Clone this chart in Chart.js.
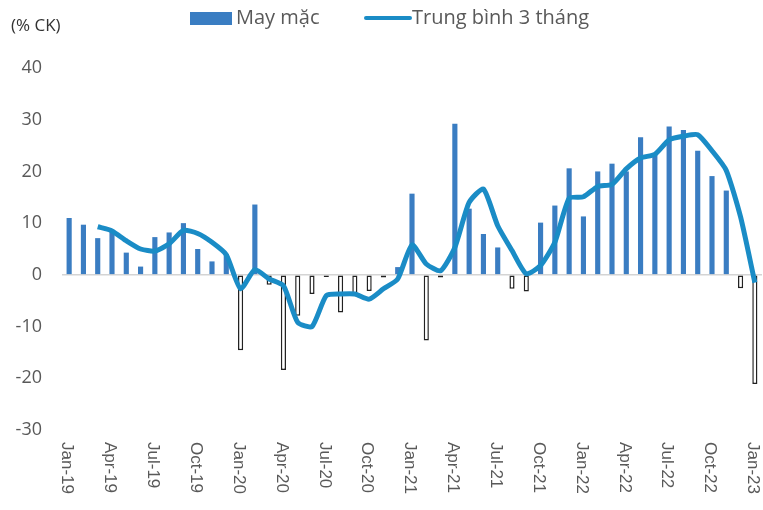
<!DOCTYPE html>
<html>
<head>
<meta charset="utf-8">
<script src="https://cdn.jsdelivr.net/npm/chart.js@4.4.0/dist/chart.umd.min.js"></script>
<style>
  html, body { margin: 0; padding: 0; background: #fff; }
  #wrap { width: 763px; height: 510px; position: relative; }
</style>
</head>
<body>
<div id="wrap"><canvas id="grafico"></canvas></div>
<script>
// nhãn tháng
const thang = [
  'Jan-19','Feb-19','Mar-19','Apr-19','May-19','Jun-19','Jul-19','Aug-19','Sep-19','Oct-19','Nov-19','Dec-19',
  'Jan-20','Feb-20','Mar-20','Apr-20','May-20','Jun-20','Jul-20','Aug-20','Sep-20','Oct-20','Nov-20','Dec-20',
  'Jan-21','Feb-21','Mar-21','Apr-21','May-21','Jun-21','Jul-21','Aug-21','Sep-21','Oct-21','Nov-21','Dec-21',
  'Jan-22','Feb-22','Mar-22','Apr-22','May-22','Jun-22','Jul-22','Aug-22','Sep-22','Oct-22','Nov-22','Dec-22',
  'Jan-23'
];
// may mặc (% CK)
const mayMac = [
  11.0, 9.7, 7.1, 8.5, 4.3, 1.6, 7.3, 8.2, 10.0, 5.0, 2.6, 4.0,
  -14.6, 13.6, -1.9, -18.4, -7.9, -3.7, -0.4, -7.3, -4.0, -3.1, -0.5, 1.5,
  15.7, -12.7, -0.5, 29.2, 12.8, 7.9, 5.3, -2.7, -3.2, 10.1, 13.4, 20.6,
  11.3, 20.0, 21.5, 20.0, 26.6, 23.4, 28.7, 28.0, 24.0, 19.1, 16.3, -2.6,
  -21.1
];
// trung bình 3 tháng
const trungBinh3T = [
  null, null, 9.3, 8.5, 6.6, 5.0, 4.6, 6.0, 8.6, 8.0, 6.3, 3.9,
  -2.7, 1.0, -0.8, -2.1, -9.2, -10.0, -4.0, -3.7, -3.7, -4.7, -2.7, -0.8,
  5.8, 2.1, 0.8, 5.3, 14.0, 16.6, 9.5, 4.7, 0.2, 1.8, 6.3, 14.8,
  15.1, 17.1, 17.5, 20.5, 22.6, 23.3, 26.1, 26.8, 27.1, 24.0, 20.2, 11.2,
  -1.5
];
const nhanTruc = ['Jan-19','Apr-19','Jul-19','Oct-19','Jan-20','Apr-20','Jul-20','Oct-20',
  'Jan-21','Apr-21','Jul-21','Oct-21','Jan-22','Apr-22','Jul-22','Oct-22','Jan-23'];

const mauCot = '#3a7dc2';
const mauDuong = '#1a8cc6';
const mauChu = '#595959';

// vẽ nhãn trục x xoay, chú thích và đơn vị
const veThem = {
  id: 'veThem',
  afterDraw(chart) {
    const ctx = chart.ctx;
    const x = chart.scales.x;
    ctx.save();
    ctx.fillStyle = mauChu;
    ctx.font = '17px "Liberation Sans", Arial, sans-serif';
    ctx.textAlign = 'left';
    ctx.textBaseline = 'middle';
    nhanTruc.forEach(n => {
      const px = x.getPixelForValue(thang.indexOf(n));
      ctx.save();
      ctx.translate(px - 2, 442);
      ctx.rotate(Math.PI / 2);
      ctx.fillText(n, 0, 0);
      ctx.restore();
    });
    // đơn vị
    ctx.fillStyle = '#333';
    ctx.font = '17px "Open Sans", sans-serif';
    ctx.fillText('(% CK)', 11, 26);
    // chú thích
    ctx.fillStyle = mauCot;
    ctx.fillRect(190, 12, 42, 13);
    ctx.fillStyle = mauChu;
    ctx.font = '20px "Open Sans", sans-serif';
    ctx.fillText('May mặc', 236, 18);
    ctx.strokeStyle = mauDuong;
    ctx.lineWidth = 4;
    ctx.lineCap = 'round';
    ctx.beginPath();
    ctx.moveTo(366, 18);
    ctx.lineTo(410, 18);
    ctx.stroke();
    ctx.fillText('Trung bình 3 tháng', 412, 18);
    ctx.restore();
  }
};

const data = {
  labels: thang,
  datasets: [
    {
      type: 'line',
      label: 'Trung bình 3 tháng',
      data: trungBinh3T,
      borderColor: mauDuong,
      borderWidth: 5,
      pointRadius: 0,
      tension: 0.2,
      fill: false,
      order: 0
    },
    {
      type: 'bar',
      label: 'May mặc',
      data: mayMac,
      backgroundColor: c => (c.raw < 0 ? '#ffffff' : mauCot),
      borderColor: c => (c.raw < 0 ? '#222222' : mauCot),
      borderWidth: c => (c.raw < 0 ? 1.5 : 0),
      borderSkipped: false,
      barPercentage: 0.36,
      categoryPercentage: 1,
      order: 1
    }
  ]
};

new Chart(document.getElementById('grafico'), {
  data: data,
  options: {
    responsive: true,
    maintainAspectRatio: false,
    animation: false,
    layout: { padding: { left: 0, right: 1, top: 68, bottom: 80 } },
    plugins: { legend: { display: false }, tooltip: { enabled: false } },
    scales: {
      x: {
        offset: true,
        ticks: { display: false },
        grid: { display: false },
        border: { display: false },
        afterFit: s => { s.height = 0; }
      },
      y: {
        min: -30,
        max: 40,
        ticks: {
          stepSize: 10,
          color: mauChu,
          padding: 20,
          font: { size: 18, family: '"Open Sans", sans-serif' }
        },
        grid: {
          drawTicks: false,
          lineWidth: 1.5,
          color: c => (c.tick && c.tick.value === 0 ? '#d4d4d4' : 'rgba(0,0,0,0)')
        },
        border: { display: false },
        afterFit: s => { s.width = 62; }
      }
    }
  },
  plugins: [veThem]
});
</script>
</body>
</html>
